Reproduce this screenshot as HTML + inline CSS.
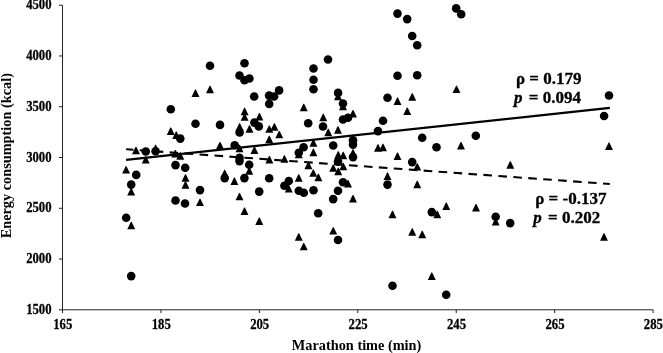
<!DOCTYPE html>
<html><head><meta charset="utf-8"><title>Energy consumption vs Marathon time</title>
<style>
html,body{margin:0;padding:0;background:#fff;}
svg{display:block;}
text{font-family:"Liberation Serif","Times New Roman",serif;font-weight:bold;fill:#000;}
.tk{font-size:13px;stroke:#000;stroke-width:0.25px;}
.ax{font-size:14.3px;}
.an{font-size:17px;stroke:#000;stroke-width:0.3px;}
</style></head><body>
<svg width="663" height="353" viewBox="0 0 663 353">
<rect width="663" height="353" fill="#fff"/>

<g stroke="#222" stroke-width="1" fill="none">
<line x1="62.5" y1="5.2" x2="62.5" y2="313.1"/>
<line x1="59.0" y1="309.8" x2="653.1" y2="309.8"/>
<line x1="59.0" y1="259.03" x2="62.5" y2="259.03"/>
<line x1="160.93" y1="309.8" x2="160.93" y2="313.1"/>
<line x1="59.0" y1="208.27" x2="62.5" y2="208.27"/>
<line x1="259.37" y1="309.8" x2="259.37" y2="313.1"/>
<line x1="59.0" y1="157.50" x2="62.5" y2="157.50"/>
<line x1="357.80" y1="309.8" x2="357.80" y2="313.1"/>
<line x1="59.0" y1="106.73" x2="62.5" y2="106.73"/>
<line x1="456.23" y1="309.8" x2="456.23" y2="313.1"/>
<line x1="59.0" y1="55.97" x2="62.5" y2="55.97"/>
<line x1="554.67" y1="309.8" x2="554.67" y2="313.1"/>
<line x1="59.0" y1="5.20" x2="62.5" y2="5.20"/>
<line x1="653.10" y1="309.8" x2="653.10" y2="313.1"/>
</g>
<g class="tk" text-anchor="end">
<text transform="translate(51.6,313.90) scale(0.98,1.05)">1500</text>
<text transform="translate(51.6,263.13) scale(0.98,1.05)">2000</text>
<text transform="translate(51.6,212.37) scale(0.98,1.05)">2500</text>
<text transform="translate(51.6,161.60) scale(0.98,1.05)">3000</text>
<text transform="translate(51.6,110.83) scale(0.98,1.05)">3500</text>
<text transform="translate(51.6,60.07) scale(0.98,1.05)">4000</text>
<text transform="translate(51.6,9.30) scale(0.98,1.05)">4500</text>
</g>
<g class="tk" text-anchor="middle">
<text transform="translate(62.80,328.5) scale(0.98,1.05)">165</text>
<text transform="translate(161.23,328.5) scale(0.98,1.05)">185</text>
<text transform="translate(259.67,328.5) scale(0.98,1.05)">205</text>
<text transform="translate(358.10,328.5) scale(0.98,1.05)">225</text>
<text transform="translate(456.53,328.5) scale(0.98,1.05)">245</text>
<text transform="translate(554.97,328.5) scale(0.98,1.05)">265</text>
<text transform="translate(653.40,328.5) scale(0.98,1.05)">285</text>
</g>
<text class="ax" text-anchor="middle" x="356.6" y="349.6">Marathon time (min)</text>
<text class="ax" text-anchor="middle" transform="translate(11.2,155.7) rotate(-90)">Energy consumption (kcal)</text>
<line x1="126.1" y1="159.8" x2="609.8" y2="107.9" stroke="#000" stroke-width="2.3"/>
<line x1="126.2" y1="149.2" x2="609.8" y2="184" stroke="#000" stroke-width="2.1" stroke-dasharray="8.6 6.38" stroke-dashoffset="1.35"/>
<text class="an" x="516" y="84">ρ = 0.179</text>
<text class="an" x="514" y="103"><tspan font-style="italic">p</tspan><tspan dx="2"> = 0.094</tspan></text>
<text class="an" x="535.2" y="204.2">ρ = -0.137</text>
<text class="an" x="533.3" y="223.2"><tspan font-style="italic">p</tspan><tspan dx="2"> = 0.202</tspan></text>
<g fill="#000">
<path d="M195.10 89.60H195.90L199.45 97.00H191.55Z"/>
<path d="M209.60 85.85H210.40L213.95 93.25H206.05Z"/>
<path d="M244.20 107.85H245.00L248.55 115.25H240.65Z"/>
<path d="M244.20 113.45H245.00L248.55 120.85H240.65Z"/>
<path d="M259.00 113.05H259.80L263.35 120.45H255.45Z"/>
<path d="M303.35 103.85H304.15L307.70 111.25H299.80Z"/>
<path d="M239.20 123.35H240.00L243.55 130.75H235.65Z"/>
<path d="M249.10 125.35H249.90L253.45 132.75H245.55Z"/>
<path d="M268.90 125.45H269.70L273.25 132.85H265.35Z"/>
<path d="M274.00 123.25H274.80L278.35 130.65H270.45Z"/>
<path d="M170.35 127.60H171.15L174.70 135.00H166.80Z"/>
<path d="M175.85 131.55H176.65L180.20 138.95H172.30Z"/>
<path d="M135.60 146.85H136.40L139.95 154.25H132.05Z"/>
<path d="M155.20 144.85H156.00L159.55 152.25H151.65Z"/>
<path d="M145.35 156.15H146.15L149.70 163.55H141.80Z"/>
<path d="M174.90 150.10H175.70L179.25 157.50H171.35Z"/>
<path d="M179.90 152.35H180.70L184.25 159.75H176.35Z"/>
<path d="M219.60 141.95H220.40L223.95 149.35H216.05Z"/>
<path d="M239.10 144.85H239.90L243.45 152.25H235.55Z"/>
<path d="M254.00 146.55H254.80L258.35 153.95H250.45Z"/>
<path d="M268.85 135.85H269.65L273.20 143.25H265.30Z"/>
<path d="M269.00 156.05H269.80L273.35 163.45H265.45Z"/>
<path d="M456.10 85.65H456.90L460.45 93.05H452.55Z"/>
<path d="M337.60 92.85H338.40L341.95 100.25H334.05Z"/>
<path d="M342.60 102.85H343.40L346.95 110.25H339.05Z"/>
<path d="M322.85 113.85H323.65L327.20 121.25H319.30Z"/>
<path d="M352.60 110.10H353.40L356.95 117.50H349.05Z"/>
<path d="M278.85 130.95H279.65L283.20 138.35H275.30Z"/>
<path d="M327.85 128.85H328.65L332.20 136.25H324.30Z"/>
<path d="M337.60 126.35H338.40L341.95 133.75H334.05Z"/>
<path d="M313.00 139.35H313.80L317.35 146.75H309.45Z"/>
<path d="M313.00 148.85H313.80L317.35 156.25H309.45Z"/>
<path d="M298.35 150.85H299.15L302.70 158.25H294.80Z"/>
<path d="M284.00 155.35H284.80L288.35 162.75H280.45Z"/>
<path d="M308.00 161.85H308.80L312.35 169.25H304.45Z"/>
<path d="M337.85 151.35H338.65L342.20 158.75H334.30Z"/>
<path d="M342.85 151.85H343.65L347.20 159.25H339.30Z"/>
<path d="M352.60 149.35H353.40L356.95 156.75H349.05Z"/>
<path d="M332.85 164.45H333.65L337.20 171.85H329.30Z"/>
<path d="M342.85 162.85H343.65L347.20 170.25H339.30Z"/>
<path d="M337.85 167.85H338.65L342.20 175.25H334.30Z"/>
<path d="M377.60 144.35H378.40L381.95 151.75H374.05Z"/>
<path d="M382.60 143.85H383.40L386.95 151.25H379.05Z"/>
<path d="M397.10 97.60H397.90L401.45 105.00H393.55Z"/>
<path d="M411.85 93.35H412.65L416.20 100.75H408.30Z"/>
<path d="M406.85 107.60H407.65L411.20 115.00H403.30Z"/>
<path d="M397.10 152.60H397.90L401.45 160.00H393.55Z"/>
<path d="M416.85 163.15H417.65L421.20 170.55H413.30Z"/>
<path d="M460.60 142.10H461.40L464.95 149.50H457.05Z"/>
<path d="M509.90 161.35H510.70L514.25 168.75H506.35Z"/>
<path d="M608.60 142.60H609.40L612.95 150.00H605.05Z"/>
<path d="M125.70 166.15H126.50L130.05 173.55H122.15Z"/>
<path d="M130.80 188.10H131.60L135.15 195.50H127.25Z"/>
<path d="M130.85 221.85H131.65L135.20 229.25H127.30Z"/>
<path d="M185.10 174.35H185.90L189.45 181.75H181.55Z"/>
<path d="M185.10 181.35H185.90L189.45 188.75H181.55Z"/>
<path d="M199.60 198.65H200.40L203.95 206.05H196.05Z"/>
<path d="M224.30 169.85H225.10L228.65 177.25H220.75Z"/>
<path d="M234.00 177.55H234.80L238.35 184.95H230.45Z"/>
<path d="M248.85 167.35H249.65L253.20 174.75H245.30Z"/>
<path d="M239.10 192.95H239.90L243.45 200.35H235.55Z"/>
<path d="M244.10 207.60H244.90L248.45 215.00H240.55Z"/>
<path d="M258.85 217.60H259.65L263.20 225.00H255.30Z"/>
<path d="M312.90 169.45H313.70L317.25 176.85H309.35Z"/>
<path d="M318.00 173.85H318.80L322.35 181.25H314.45Z"/>
<path d="M298.35 174.35H299.15L302.70 181.75H294.80Z"/>
<path d="M288.35 185.10H289.15L292.70 192.50H284.80Z"/>
<path d="M347.60 180.10H348.40L351.95 187.50H344.05Z"/>
<path d="M352.60 195.10H353.40L356.95 202.50H349.05Z"/>
<path d="M332.85 227.15H333.65L337.20 234.55H329.30Z"/>
<path d="M298.35 233.35H299.15L302.70 240.75H294.80Z"/>
<path d="M303.35 242.95H304.15L307.70 250.35H299.80Z"/>
<path d="M387.10 172.60H387.90L391.45 180.00H383.55Z"/>
<path d="M416.85 180.85H417.65L421.20 188.25H413.30Z"/>
<path d="M392.10 210.85H392.90L396.45 218.25H388.55Z"/>
<path d="M411.85 228.25H412.65L416.20 235.65H408.30Z"/>
<path d="M421.85 230.75H422.65L426.20 238.15H418.30Z"/>
<path d="M445.85 202.60H446.65L450.20 210.00H442.30Z"/>
<path d="M475.60 204.05H476.40L479.95 211.45H472.05Z"/>
<path d="M436.85 210.85H437.65L441.20 218.25H433.30Z"/>
<path d="M495.30 218.15H496.10L499.65 225.55H491.75Z"/>
<path d="M603.60 233.25H604.40L607.95 240.65H600.05Z"/>
<path d="M431.35 272.60H432.15L435.70 280.00H427.80Z"/>
<circle cx="210.0" cy="65.8" r="4.3"/>
<circle cx="244.5" cy="63.3" r="4.3"/>
<circle cx="239.5" cy="75.5" r="4.3"/>
<circle cx="244.5" cy="80.3" r="4.3"/>
<circle cx="249.4" cy="78.5" r="4.3"/>
<circle cx="254.2" cy="96.5" r="4.3"/>
<circle cx="269.1" cy="95.6" r="4.3"/>
<circle cx="274.1" cy="96.5" r="4.3"/>
<circle cx="279.1" cy="90.4" r="4.3"/>
<circle cx="269.2" cy="103.9" r="4.3"/>
<circle cx="170.8" cy="109.3" r="4.3"/>
<circle cx="195.5" cy="123.8" r="4.3"/>
<circle cx="220.0" cy="124.9" r="4.3"/>
<circle cx="254.4" cy="122.6" r="4.3"/>
<circle cx="258.8" cy="126.4" r="4.3"/>
<circle cx="397.5" cy="13.6" r="4.3"/>
<circle cx="407.2" cy="19.1" r="4.3"/>
<circle cx="412.2" cy="36.0" r="4.3"/>
<circle cx="417.2" cy="45.3" r="4.3"/>
<circle cx="397.5" cy="75.8" r="4.3"/>
<circle cx="417.2" cy="75.3" r="4.3"/>
<circle cx="328.0" cy="59.5" r="4.3"/>
<circle cx="313.5" cy="68.5" r="4.3"/>
<circle cx="313.5" cy="79.8" r="4.3"/>
<circle cx="313.5" cy="89.2" r="4.3"/>
<circle cx="456.2" cy="8.4" r="4.3"/>
<circle cx="461.2" cy="14.2" r="4.3"/>
<circle cx="180.3" cy="138.6" r="4.3"/>
<circle cx="145.8" cy="151.5" r="4.3"/>
<circle cx="155.6" cy="151.2" r="4.3"/>
<circle cx="175.5" cy="165.1" r="4.3"/>
<circle cx="185.2" cy="167.8" r="4.3"/>
<circle cx="234.7" cy="145.3" r="4.3"/>
<circle cx="239.6" cy="132.4" r="4.3"/>
<circle cx="239.5" cy="157.8" r="4.3"/>
<circle cx="239.5" cy="161.1" r="4.3"/>
<circle cx="249.2" cy="164.8" r="4.3"/>
<circle cx="338.1" cy="92.9" r="4.3"/>
<circle cx="343.0" cy="103.5" r="4.3"/>
<circle cx="343.0" cy="119.5" r="4.3"/>
<circle cx="348.0" cy="117.8" r="4.3"/>
<circle cx="308.2" cy="123.3" r="4.3"/>
<circle cx="323.0" cy="126.5" r="4.3"/>
<circle cx="387.5" cy="97.8" r="4.3"/>
<circle cx="383.0" cy="120.8" r="4.3"/>
<circle cx="378.0" cy="131.1" r="4.3"/>
<circle cx="422.2" cy="137.8" r="4.3"/>
<circle cx="436.5" cy="147.3" r="4.3"/>
<circle cx="333.2" cy="145.5" r="4.3"/>
<circle cx="353.0" cy="140.3" r="4.3"/>
<circle cx="353.0" cy="144.6" r="4.3"/>
<circle cx="303.6" cy="147.2" r="4.3"/>
<circle cx="298.8" cy="152.7" r="4.3"/>
<circle cx="353.0" cy="157.1" r="4.3"/>
<circle cx="338.0" cy="161.6" r="4.3"/>
<circle cx="412.2" cy="162.1" r="4.3"/>
<circle cx="475.8" cy="135.8" r="4.3"/>
<circle cx="609.0" cy="95.5" r="4.3"/>
<circle cx="604.1" cy="116.0" r="4.3"/>
<circle cx="136.2" cy="174.9" r="4.3"/>
<circle cx="131.2" cy="184.6" r="4.3"/>
<circle cx="126.2" cy="217.8" r="4.3"/>
<circle cx="200.0" cy="190.1" r="4.3"/>
<circle cx="175.5" cy="200.5" r="4.3"/>
<circle cx="185.0" cy="203.5" r="4.3"/>
<circle cx="224.7" cy="178.1" r="4.3"/>
<circle cx="244.4" cy="178.1" r="4.3"/>
<circle cx="269.2" cy="178.3" r="4.3"/>
<circle cx="259.2" cy="191.6" r="4.3"/>
<circle cx="288.8" cy="181.0" r="4.3"/>
<circle cx="284.4" cy="185.8" r="4.3"/>
<circle cx="298.8" cy="190.8" r="4.3"/>
<circle cx="303.8" cy="192.8" r="4.3"/>
<circle cx="313.5" cy="190.3" r="4.3"/>
<circle cx="343.0" cy="182.3" r="4.3"/>
<circle cx="338.0" cy="190.8" r="4.3"/>
<circle cx="333.2" cy="199.1" r="4.3"/>
<circle cx="318.2" cy="213.3" r="4.3"/>
<circle cx="338.0" cy="240.0" r="4.3"/>
<circle cx="387.5" cy="184.6" r="4.3"/>
<circle cx="431.8" cy="212.1" r="4.3"/>
<circle cx="495.7" cy="216.7" r="4.3"/>
<circle cx="510.2" cy="223.1" r="4.3"/>
<circle cx="131.2" cy="276.1" r="4.3"/>
<circle cx="392.5" cy="285.8" r="4.3"/>
<circle cx="446.2" cy="294.8" r="4.3"/>
</g>
</svg></body></html>
